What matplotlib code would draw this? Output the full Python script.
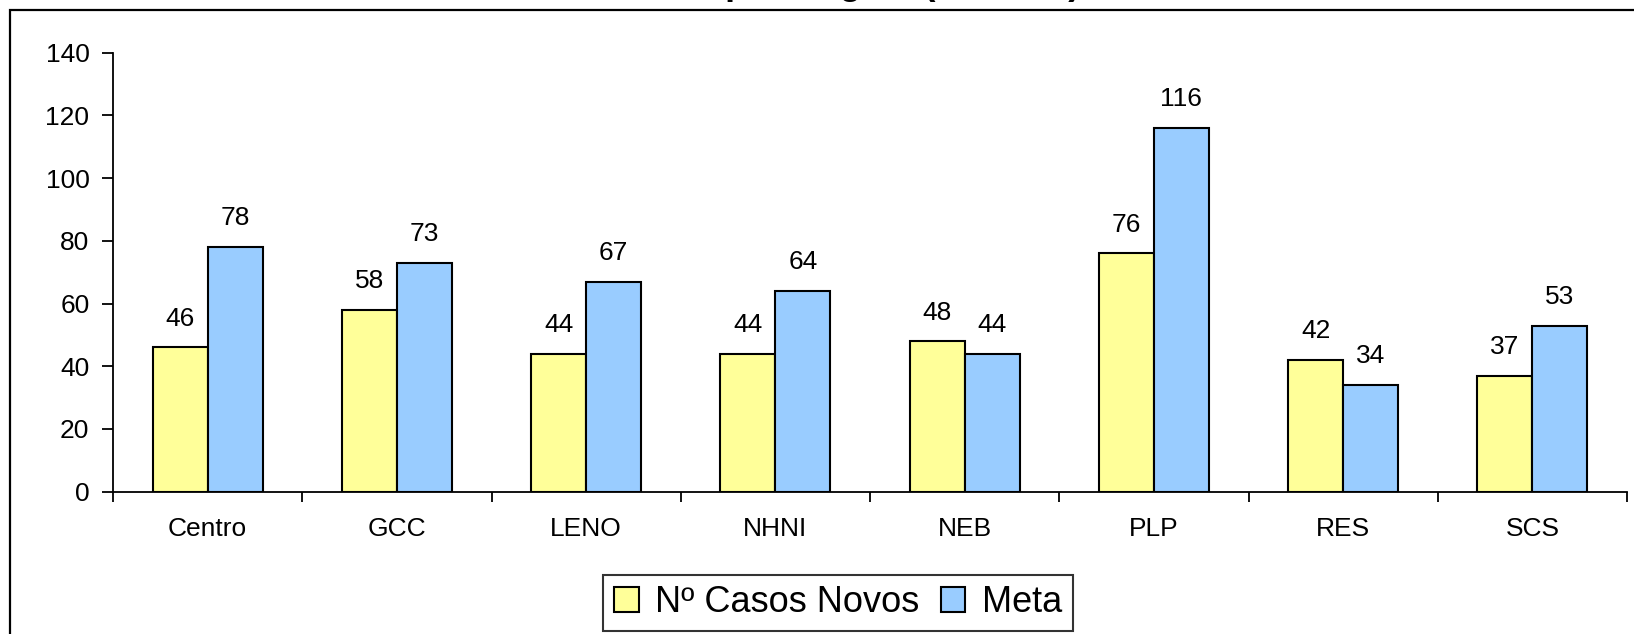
import numpy as np
import matplotlib.pyplot as plt
from matplotlib.patches import Rectangle, Patch

plt.rcParams['font.family'] = ['Liberation Sans', 'DejaVu Sans']

regioes = ['Centro', 'GCC', 'LENO', 'NHNI', 'NEB', 'PLP', 'RES', 'SCS']
casos_novos = [46, 58, 44, 44, 48, 76, 42, 37]
meta = [78, 73, 67, 64, 44, 116, 34, 53]
y_ticks = [0, 20, 40, 60, 80, 100, 120, 140]

W, H = 1634, 634
fig = plt.figure(figsize=(W / 100, H / 100), dpi=100)
ax = fig.add_axes([113 / W, 1 - 491.7 / H, (1627 - 113) / W, (491.7 - 52.7) / H])

# outer chart frame, cut off at right and bottom like the original
fig.patches.append(Rectangle((10 / W, -0.1), 1.2, 1 - 10 / H + 0.1, transform=fig.transFigure,
                             fill=False, edgecolor='black', linewidth=1.6, clip_on=False))

# title mostly cut off at the top
fig.text(1080 / W, 1 + 5.5 / H, 'Casos Novos por Região (2008-09)', ha='right', va='baseline',
         fontsize=26, fontweight='bold')

x = np.arange(len(regioes))
w = 0.29
b1 = ax.bar(x - w / 2, casos_novos, w, color='#FFFF99', edgecolor='black', linewidth=1.5)
b2 = ax.bar(x + w / 2, meta, w, color='#99CCFF', edgecolor='black', linewidth=1.5)

for bars, vals in [(b1, casos_novos), (b2, meta)]:
    for r, v in zip(bars, vals):
        ax.annotate(f'{v}', (r.get_x() + r.get_width() / 2, v), xytext=(0, 12),
                    textcoords='offset points', ha='center', va='bottom', fontsize=19)

ax.set_xlim(-0.5, len(regioes) - 0.5)
ax.set_ylim(0, 140)
ax.set_yticks(y_ticks)
ax.tick_params(axis='y', labelsize=19, length=8, width=1.3, pad=9)
ax.set_xticks(np.arange(len(regioes) + 1) - 0.5)
ax.set_xticklabels([])
ax.set_xticks(x, minor=True)
ax.set_xticklabels(regioes, minor=True)
ax.tick_params(axis='x', which='major', length=7, width=1.3)
ax.tick_params(axis='x', which='minor', length=0, labelsize=19, pad=18)

for s in ['top', 'right']:
    ax.spines[s].set_visible(False)
for s in ['left', 'bottom']:
    ax.spines[s].set_linewidth(1.3)

handles = [Patch(facecolor='#FFFF99', edgecolor='black', linewidth=1.5),
           Patch(facecolor='#99CCFF', edgecolor='black', linewidth=1.5)]
leg = fig.legend(handles, ['Nº Casos Novos', 'Meta'], loc='center', bbox_to_anchor=(838 / W, 1 - 603 / H),
                 ncol=2, fontsize=26, frameon=True, fancybox=False, edgecolor='black',
                 handlelength=0.68, handleheight=0.68, handletextpad=0.45, columnspacing=0.6,
                 borderpad=0.3, borderaxespad=0)
leg.get_frame().set_linewidth(1.5)

fig.savefig('out.png', dpi=100)
